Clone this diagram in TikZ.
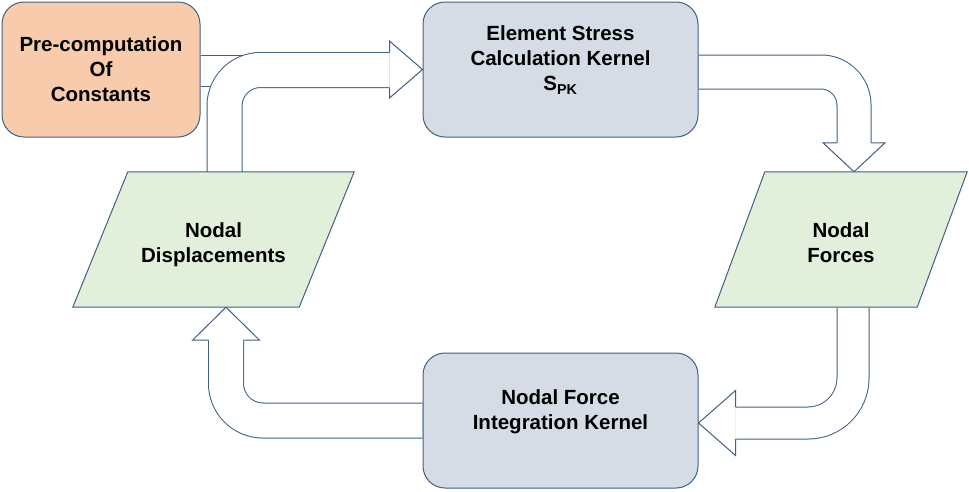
\documentclass[tikz,border=0pt]{standalone}
\usepackage{fontspec}
\setmainfont{Liberation Sans}
\usepackage{tikz}
\usetikzlibrary{shapes.geometric,calc,positioning,backgrounds}

\definecolor{edgeblue}{RGB}{64,96,132}
\definecolor{constfill}{RGB}{248,203,173}
\definecolor{kernelfill}{RGB}{214,220,229}
\definecolor{datafill}{RGB}{226,239,218}

\begin{document}
\begin{tikzpicture}[
    x=1pt, y=-1pt,
    procbox/.style={rectangle, rounded corners=22pt, draw=edgeblue, line width=1pt, minimum width=275pt, minimum height=135pt, align=center, font=\fontsize{20.5}{25}\selectfont\bfseries},
    constbox/.style={procbox, fill=constfill, minimum width=198pt},
    kernel/.style={procbox, fill=kernelfill, text depth=22pt},
    datanode/.style={rectangle, inner sep=0pt, minimum height=135pt, text height=45pt, text depth=0pt, align=center, font=\fontsize{20.5}{25}\selectfont\bfseries},
    dataedge/.style={draw=edgeblue, fill=datafill, line width=1pt, line join=miter},
    shaft/.style={draw=edgeblue, line width=1pt, double=white},
    tiphead/.style={draw=edgeblue, fill=white, line width=1pt, line join=miter},
]
\useasboundingbox (0,0) rectangle (969,491);

% Kernels and data
\node[constbox] (precomp) at (101,69.5) {Pre-computation\\Of\\Constants};
\node[kernel] (stress) at (560.5,69.5) {Element Stress\\Calculation Kernel\\S\textsubscript{PK}};
\node[kernel] (integ) at (560.5,420.5) {Nodal Force\\Integration Kernel};
\node[datanode, minimum width=281pt] (disp) at (213.5,239.5) {Nodal\\Displacements};
\node[datanode, minimum width=252pt] (forces) at (841,239.5) {Nodal\\Forces};

\begin{scope}[on background layer]
% Constants into the stress kernel
\draw[shaft, double distance=30pt] ($(precomp.east)+(0,1)$) -- ($(stress.west)+(-33,1)$);

% Displacements -> stress kernel
\draw[shaft, double distance=34pt, rounded corners=36pt] ($(disp.north)+(11,0)$) |- ($(stress.west)+(-33,0.5)$);
\path[tiphead] ($(stress.west)+(-33,-17)$) -- ($(stress.west)+(-33,-28.5)$) -- (stress.west) -- ($(stress.west)+(-33,28.5)$) -- ($(stress.west)+(-33,18)$);

% Stress kernel -> forces
\draw[shaft, double distance=33pt, rounded corners=33pt] ($(stress.east)+(0,2.5)$) -| ($(forces.north)+(13,-29)$);
\path[tiphead] ($(forces.north)+(-4,-29)$) -- ($(forces.north)+(-18,-29)$) -- ($(forces.north)+(13,0)$) -- ($(forces.north)+(44,-29)$) -- ($(forces.north)+(30,-29)$);

% Forces -> integration kernel
\draw[shaft, double distance=31pt, rounded corners=45pt] ($(forces.south)+(12,0)$) |- ($(integ.east)+(37,2.5)$);
\path[tiphead] ($(integ.east)+(37,-13.5)$) -- ($(integ.east)+(37,-30)$) -- ($(integ.east)+(0,2.5)$) -- ($(integ.east)+(37,35)$) -- ($(integ.east)+(37,18.5)$);

% Integration kernel -> displacements
\draw[shaft, double distance=34pt, rounded corners=37pt] (integ.west) -| ($(disp.south)+(12.5,33)$);
\path[tiphead] ($(disp.south)+(30,33)$) -- ($(disp.south)+(46,33)$) -- ($(disp.south)+(12.5,0)$) -- ($(disp.south)+(-21,33)$) -- ($(disp.south)+(-5,33)$);

% Parallelograms behind the data labels
\draw[dataedge] ([xshift=55pt]disp.north west) -- (disp.north east) -- ([xshift=-55pt]disp.south east) -- (disp.south west) -- cycle;
\draw[dataedge] ([xshift=50pt]forces.north west) -- (forces.north east) -- ([xshift=-50pt]forces.south east) -- (forces.south west) -- cycle;
\end{scope}

\end{tikzpicture}
\end{document}
